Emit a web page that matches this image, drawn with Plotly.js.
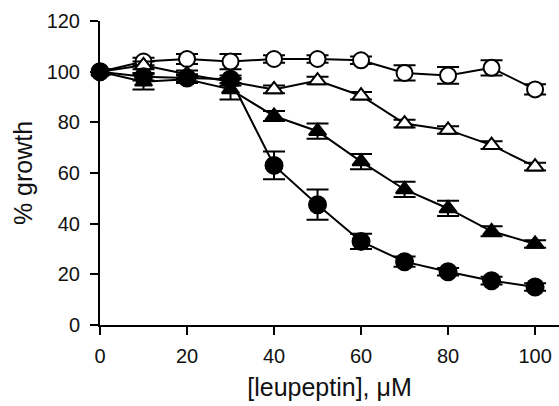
<!DOCTYPE html>
<html><head><meta charset="utf-8">
<script src="https://cdn.plot.ly/plotly-3.0.1.min.js"></script>
<style>html,body{margin:0;padding:0;background:#fff}#c{width:559px;height:406px}</style>
</head><body><div id="c"></div>
<script>
const conc = [0, 10, 20, 30, 40, 50, 60, 70, 80, 90, 100];
const openCircle = [100, 104, 105, 104, 105, 105, 104.5, 99.5, 98.5, 101.5, 93];
const openCircleErr = [1, 1.5, 2, 3, 1.5, 1.5, 1.5, 3, 3.3, 3, 2];
const openTriangle = [100, 102.5, 99, 96, 93, 96.5, 90.5, 79.5, 77, 71, 62.5];
const openTriangleErr = [1, 1.5, 1.5, 1.5, 1.5, 1.5, 1.5, 1.5, 1.5, 1.5, 1.5];
const filledTriangle = [100, 96, 97, 93, 82.5, 76.5, 64.5, 53.5, 46, 37, 32];
const filledTriangleErr = [1, 3, 1.5, 4, 2, 3, 3, 3, 3, 2, 1.5];
const filledCircle = [100, 98, 97.5, 97, 63, 47.5, 33, 25, 21, 17.5, 15];
const filledCircleErr = [1, 1.5, 1.5, 1.5, 5.5, 6, 3, 2, 1.5, 1.5, 1.5];

function trace(y, err, symbol, fill, size) {
  return {
    x: conc, y: y, type: 'scatter', mode: 'lines+markers', cliponaxis: false,
    line: {color: '#000', width: 2},
    marker: {symbol: symbol, size: size, color: fill, line: {color: '#000', width: 2}},
    error_y: {type: 'data', array: err, visible: true, color: '#000', thickness: 2, width: 11}
  };
}
const data = [
  trace(openCircle, openCircleErr, 'circle', '#fff', 16),
  trace(openTriangle, openTriangleErr, 'triangle-up', '#fff', 15),
  trace(filledTriangle, filledTriangleErr, 'triangle-up', '#000', 15),
  trace(filledCircle, filledCircleErr, 'circle', '#000', 17)
];
const fam = 'Liberation Sans, Arial, sans-serif';
const tickFont = {family: fam, size: 20, color: '#111'};
const titleFont = {family: fam, size: 25, color: '#111'};
const layout = {
  width: 559, height: 406, showlegend: false,
  margin: {l: 100, r: 0, t: 21, b: 81},
  paper_bgcolor: '#fff', plot_bgcolor: '#fff', font: tickFont,
  xaxis: {range: [0, 105.5], tickvals: [0, 20, 40, 60, 80, 100], showgrid: false, zeroline: false,
    showline: true, linecolor: '#000', linewidth: 2, ticks: 'outside', ticklen: 8, tickwidth: 2, tickcolor: '#000',
    tickfont: tickFont, ticklabelstandoff: 4,
    title: {text: '[leupeptin], μM', font: titleFont, standoff: 12}},
  yaxis: {range: [0, 120], tickvals: [0, 20, 40, 60, 80, 100, 120], showgrid: false, zeroline: false,
    showline: true, linecolor: '#000', linewidth: 2, ticks: 'outside', ticklen: 8, tickwidth: 2, tickcolor: '#000',
    tickfont: tickFont, ticklabelstandoff: 6,
    title: {text: '% growth', font: titleFont, standoff: 7}}
};
Plotly.newPlot('c', data, layout, {displayModeBar: false, staticPlot: true});
</script></body></html>
